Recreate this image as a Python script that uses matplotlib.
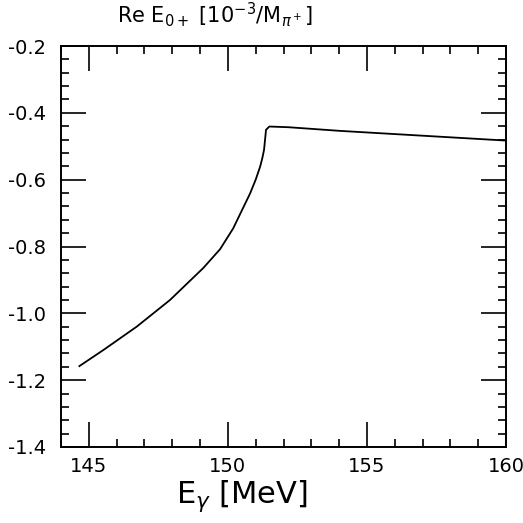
import numpy as np
import matplotlib
matplotlib.use('Agg')
import matplotlib.pyplot as plt
from matplotlib.ticker import MultipleLocator

# curve: photon energy [MeV] vs Re E0+ [10^-3/M_pi+]
e_gamma = [144.66, 145.52, 146.72, 147.92, 149.12, 149.72, 150.19, 150.80,
           151.0, 151.16, 151.24, 151.30, 151.36, 151.37, 151.49, 152.17,
           154.03, 155.47, 160.0]
re_e0 = [-1.158, -1.110, -1.040, -0.960, -0.864, -0.808, -0.746, -0.641,
         -0.600, -0.561, -0.535, -0.511, -0.461, -0.451, -0.441, -0.443,
         -0.454, -0.461, -0.483]

x_ticks = [145, 150, 155, 160]
y_ticks = [-1.4, -1.2, -1.0, -0.8, -0.6, -0.4, -0.2]

plt.rcParams['font.family'] = ['DejaVu Sans']
plt.rcParams['mathtext.fontset'] = 'dejavusans'

fig = plt.figure(figsize=(5.23, 5.23), dpi=100)
ax = fig.add_axes([61 / 523, 76 / 523, 445 / 523, 401 / 523])

ax.plot(e_gamma, re_e0, color='black', lw=1.3)

ax.set_xlim(144, 160)
ax.set_ylim(-1.4, -0.2)
ax.set_xticks(x_ticks)
ax.set_yticks(y_ticks)
ax.set_xticklabels([str(t) for t in x_ticks])
ax.set_yticklabels(['%.1f' % t for t in y_ticks])
ax.xaxis.set_minor_locator(MultipleLocator(1))
ax.yaxis.set_minor_locator(MultipleLocator(0.04))
ax.tick_params(which='both', direction='in', top=True, right=True,
               labelsize=14, width=1.2, colors='black')
ax.tick_params(which='major', length=18)
ax.tick_params(which='minor', length=6)
ax.tick_params(axis='y', which='major', pad=11)
ax.tick_params(axis='x', which='major', pad=7)
for s in ax.spines.values():
    s.set_linewidth(1.4)

fig.text(0.224, 0.972, r'Re E$_{0+}$ [10$^{-3}$/M$_{\pi^+}$]', fontsize=15,
         ha='left', va='center')
fig.text(0.463, 0.05, r'E$_{\gamma}$ [MeV]', fontsize=22, ha='center',
         va='center')

fig.savefig('out.png', dpi=100)
